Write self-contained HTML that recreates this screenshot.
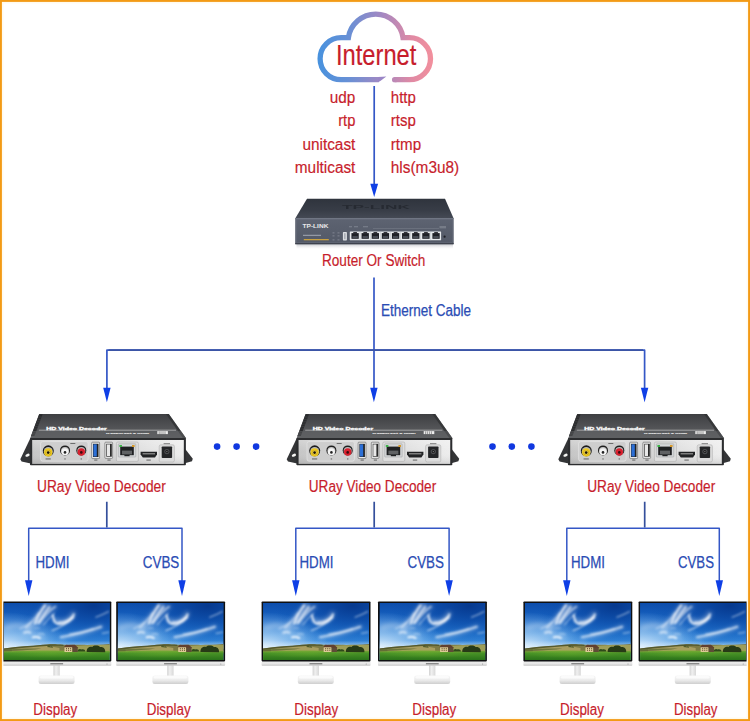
<!DOCTYPE html>
<html>
<head>
<meta charset="utf-8">
<title>URay Video Decoder Network Diagram</title>
<style>
html,body{margin:0;padding:0;background:#fff;}
body{width:750px;height:721px;overflow:hidden;font-family:"Liberation Sans",sans-serif;}
#wrap{position:relative;width:750px;height:721px;background:#fff;overflow:hidden;}
svg{position:absolute;left:0;top:0;display:block;}
text{font-family:"Liberation Sans",sans-serif;}
.red{fill:#c71d2c;}
.blue{fill:#2a4cb4;}
</style>
</head>
<body>
<div id="wrap">
<svg width="750" height="721" viewBox="0 0 750 721">
<defs>
<linearGradient id="cloudg" gradientUnits="userSpaceOnUse" x1="318" y1="50" x2="435" y2="50">
<stop offset="0" stop-color="#4892de"/>
<stop offset="0.25" stop-color="#6690d6"/>
<stop offset="0.55" stop-color="#a488c2"/>
<stop offset="0.8" stop-color="#e08aa4"/>
<stop offset="1" stop-color="#f4909c"/>
</linearGradient>
<linearGradient id="rtop" x1="0" y1="0" x2="0" y2="1">
<stop offset="0" stop-color="#2f343d"/><stop offset="0.6" stop-color="#383d47"/><stop offset="1" stop-color="#454a55"/>
</linearGradient>
<linearGradient id="rfront" x1="0" y1="0" x2="0" y2="1">
<stop offset="0" stop-color="#5d6371"/><stop offset="1" stop-color="#535967"/>
</linearGradient>
<linearGradient id="rshadow" x1="0" y1="0" x2="0" y2="1">
<stop offset="0" stop-color="#b8bac0" stop-opacity="0.8"/><stop offset="1" stop-color="#e8e8ea" stop-opacity="0"/>
</linearGradient>
<linearGradient id="dtop" x1="0" y1="0" x2="0" y2="1">
<stop offset="0" stop-color="#3e3f42"/><stop offset="0.35" stop-color="#4b4c4f"/><stop offset="0.7" stop-color="#57585b"/><stop offset="1" stop-color="#5d5e61"/>
</linearGradient>
<linearGradient id="dpanel" x1="0" y1="0" x2="1" y2="0">
<stop offset="0" stop-color="#c6c6c6"/><stop offset="0.25" stop-color="#d3d3d3"/><stop offset="0.55" stop-color="#d6d6d6"/><stop offset="0.8" stop-color="#e4e4e4"/><stop offset="1" stop-color="#ededed"/>
</linearGradient>
<linearGradient id="dpanelv" x1="0" y1="0" x2="0" y2="1">
<stop offset="0" stop-color="#fff" stop-opacity="0.25"/><stop offset="0.5" stop-color="#fff" stop-opacity="0"/><stop offset="1" stop-color="#000" stop-opacity="0.1"/>
</linearGradient>
<linearGradient id="msky" x1="0" y1="0" x2="0" y2="1">
<stop offset="0" stop-color="#0d4dab"/><stop offset="0.3" stop-color="#1865c4"/><stop offset="0.55" stop-color="#2a80d8"/><stop offset="0.78" stop-color="#4698e4"/><stop offset="1" stop-color="#6cb0ec"/>
</linearGradient>
<radialGradient id="msky2" cx="0.85" cy="0.05" r="0.75">
<stop offset="0" stop-color="#05368a" stop-opacity="0.9"/><stop offset="0.6" stop-color="#0a49a6" stop-opacity="0.4"/><stop offset="1" stop-color="#0a49a6" stop-opacity="0"/>
</radialGradient>
<radialGradient id="msky3" cx="0.0" cy="0.78" r="0.62">
<stop offset="0" stop-color="#e8f5ff" stop-opacity="0.9"/><stop offset="0.5" stop-color="#cfe8fb" stop-opacity="0.45"/><stop offset="1" stop-color="#cfe8fb" stop-opacity="0"/>
</radialGradient>
<linearGradient id="mhaze" x1="0" y1="0" x2="0" y2="1">
<stop offset="0" stop-color="#dff0fc" stop-opacity="0"/><stop offset="1" stop-color="#e8f4fc" stop-opacity="0.75"/>
</linearGradient>
<linearGradient id="mfield" x1="0" y1="0" x2="0" y2="1">
<stop offset="0" stop-color="#7eaa38"/><stop offset="0.3" stop-color="#479226"/><stop offset="1" stop-color="#2a721a"/>
</linearGradient>
<radialGradient id="mfield2" cx="0.45" cy="0.35" r="0.45">
<stop offset="0" stop-color="#86c434" stop-opacity="0.3"/><stop offset="1" stop-color="#86c434" stop-opacity="0"/>
</radialGradient>
<linearGradient id="mchin" x1="0" y1="0" x2="0" y2="1">
<stop offset="0" stop-color="#f2f2f2"/><stop offset="0.7" stop-color="#e6e6e6"/><stop offset="1" stop-color="#c6c6c6"/>
</linearGradient>
<linearGradient id="mneck" x1="0" y1="0" x2="1" y2="0">
<stop offset="0" stop-color="#d2d2d2"/><stop offset="0.4" stop-color="#f0f0f0"/><stop offset="1" stop-color="#d8d8d8"/>
</linearGradient>
<linearGradient id="mbase" x1="0" y1="0" x2="0" y2="1">
<stop offset="0" stop-color="#f6f6f6"/><stop offset="0.55" stop-color="#ececec"/><stop offset="1" stop-color="#cfcfcf"/>
</linearGradient>
<filter id="cblur" x="-10%" y="-10%" width="120%" height="120%"><feGaussianBlur stdDeviation="0.9"/></filter>
<filter id="cblur2" x="-20%" y="-20%" width="140%" height="140%"><feGaussianBlur stdDeviation="2"/></filter>

</defs>
<rect x="0" y="0" width="750" height="721" fill="#ffffff"/>
<g fill="none" stroke="url(#cloudg)" stroke-width="5.3" stroke-linejoin="miter">
<path d="M378.6,79.7 L341.1,79.7 A21,21 0 0 1 341.1,37.7 L348.4,37.7 A27.6,27.6 0 0 1 403,37.7 L409.5,37.7 A21,21 0 0 1 409.5,79.7 L394.6,79.7" stroke-linecap="butt"/>
<path d="M395.2,79.7 L394.6,79.7" stroke-linecap="round"/>
</g>
<path d="M378,77.05 L386.4,76.6 C383.4,78.2 381.4,81 378,82.35 Z" fill="#9a86c6"/>

<g stroke="#3457c6" stroke-width="1.7" fill="none" stroke-linejoin="round">
<path d="M374.2,86 V185"/>
<path d="M374,277.5 V389"/>
<path d="M106.9,389 V350.2 H644.6 V389"/>
<path d="M28.7,581 V528.3 H182 V581" stroke-width="1.5"/>
<path d="M295.8,581 V528.3 H449.1 V581" stroke-width="1.5"/>
<path d="M566.8,581 V528.3 H719.3 V581" stroke-width="1.5"/>
</g>
<g stroke="#3b55a6" stroke-width="1.7" fill="none">
<path d="M108.5,350.2 H643"/>
<path d="M106.8,501.7 V527.4 M374.2,501.7 V527.4 M644.7,501.7 V527.4" stroke="#35509c"/>
</g>
<g fill="#0f3fe6">
<path d="M370.3,183.8 H378.1 L374.2,197 Z"/>
<path d="M103.2,387.8 H110.6 L106.9,402.2 Z"/>
<path d="M370.2,387.8 H377.6 L373.9,402.2 Z"/>
<path d="M640.9,387.8 H648.3 L644.6,402.2 Z"/>
<path d="M25,580.3 H32.4 L28.7,596 Z"/>
<path d="M178.3,580.3 H185.7 L182,596 Z"/>
<path d="M292.1,580.3 H299.5 L295.8,596 Z"/>
<path d="M445.4,580.3 H452.8 L449.1,596 Z"/>
<path d="M563.1,580.3 H570.5 L566.8,596 Z"/>
<path d="M715.6,580.3 H723 L719.3,596 Z"/>
</g>
<g fill="#1038e0">
<circle cx="217.1" cy="446.6" r="3.3"/><circle cx="236.6" cy="446.6" r="3.3"/><circle cx="256.1" cy="446.6" r="3.3"/>
<circle cx="492.5" cy="446.6" r="3.3"/><circle cx="511.8" cy="446.6" r="3.3"/><circle cx="531.4" cy="446.6" r="3.3"/>
</g>

<g>
<!-- shadow -->
<rect x="296.5" y="244" width="156.5" height="5" fill="url(#rshadow)"/>
<!-- top face -->
<polygon points="307,198.7 445,198.7 453.7,218.4 295.2,218.4" fill="url(#rtop)"/>
<!-- embossed logo on top -->
<text x="342" y="209" font-size="5.5" font-weight="bold" fill="#23272e" textLength="68" lengthAdjust="spacingAndGlyphs" opacity="0.8">TP-LINK</text>
<!-- front face -->
<rect x="295.2" y="218.2" width="158.5" height="26" fill="url(#rfront)"/>
<rect x="295.2" y="218.2" width="158.5" height="0.8" fill="#727886"/>
<rect x="295.2" y="243.2" width="158.5" height="1" fill="#3a3e48"/>
<rect x="296.6" y="219.6" width="155.8" height="23" fill="none" stroke="#6c7280" stroke-width="0.5" opacity="0.8"/>
<!-- logo -->
<text x="302.6" y="227.8" font-size="5" font-weight="bold" fill="#e8e8ea" textLength="25.8" lengthAdjust="spacingAndGlyphs">TP-LINK</text>
<rect x="303" y="234.8" width="18" height="1" fill="#b8bcc6" opacity="0.8"/>
<rect x="303.8" y="239" width="25" height="1.3" fill="#c8a040"/>
<g fill="#a0a4ae" opacity="0.7">
<rect x="332.5" y="232.5" width="2" height="0.8"/><rect x="337.5" y="232.5" width="2" height="0.8"/>
<rect x="332.5" y="235.5" width="2" height="0.8"/><rect x="337.5" y="235.5" width="2" height="0.8"/>
<rect x="332.5" y="239.5" width="2" height="0.8"/><rect x="337.5" y="239.5" width="2" height="0.8"/>
</g>
<!-- line above ports -->
<rect x="373" y="228" width="66" height="0.6" fill="#7e838f" opacity="0.8"/>
<g fill="#9a9fab" opacity="0.7"><rect x="349" y="226.4" width="3" height="0.8"/><rect x="354" y="226.4" width="4" height="0.8"/><rect x="363" y="226.4" width="5" height="0.8"/></g>
<!-- usb -->
<rect x="342.9" y="232" width="4" height="8.4" rx="0.7" fill="#dcdfe3"/>
<rect x="344.4" y="233.2" width="1" height="6" fill="#8a8f99"/>
<!-- ports -->
<rect x="349.8" y="231.6" width="91.3" height="8.7" rx="0.5" fill="#e6e9ec"/>
<rect x="351.45" y="233.1" width="7.3" height="5.7" fill="#1e2026"/><rect x="353.25" y="232.1" width="3.7" height="1.3" fill="#1e2026"/><rect x="352.45" y="236.2" width="5.3" height="1.7" fill="#4e535d"/>
<rect x="361.57" y="233.1" width="7.3" height="5.7" fill="#1e2026"/><rect x="363.37" y="232.1" width="3.7" height="1.3" fill="#1e2026"/><rect x="362.57" y="236.2" width="5.3" height="1.7" fill="#4e535d"/>
<rect x="359.82" y="231.6" width="0.4" height="8.7" fill="#aeb2b8"/>
<rect x="371.69" y="233.1" width="7.3" height="5.7" fill="#1e2026"/><rect x="373.49" y="232.1" width="3.7" height="1.3" fill="#1e2026"/><rect x="372.69" y="236.2" width="5.3" height="1.7" fill="#4e535d"/>
<rect x="369.94" y="231.6" width="0.4" height="8.7" fill="#aeb2b8"/>
<rect x="381.81" y="233.1" width="7.3" height="5.7" fill="#1e2026"/><rect x="383.61" y="232.1" width="3.7" height="1.3" fill="#1e2026"/><rect x="382.81" y="236.2" width="5.3" height="1.7" fill="#4e535d"/>
<rect x="380.06" y="231.6" width="0.4" height="8.7" fill="#aeb2b8"/>
<rect x="391.93" y="233.1" width="7.3" height="5.7" fill="#1e2026"/><rect x="393.73" y="232.1" width="3.7" height="1.3" fill="#1e2026"/><rect x="392.93" y="236.2" width="5.3" height="1.7" fill="#4e535d"/>
<rect x="390.18" y="231.6" width="0.4" height="8.7" fill="#aeb2b8"/>
<rect x="402.05" y="233.1" width="7.3" height="5.7" fill="#1e2026"/><rect x="403.85" y="232.1" width="3.7" height="1.3" fill="#1e2026"/><rect x="403.05" y="236.2" width="5.3" height="1.7" fill="#4e535d"/>
<rect x="400.30" y="231.6" width="0.4" height="8.7" fill="#aeb2b8"/>
<rect x="412.17" y="233.1" width="7.3" height="5.7" fill="#1e2026"/><rect x="413.97" y="232.1" width="3.7" height="1.3" fill="#1e2026"/><rect x="413.17" y="236.2" width="5.3" height="1.7" fill="#4e535d"/>
<rect x="410.42" y="231.6" width="0.4" height="8.7" fill="#aeb2b8"/>
<rect x="422.29" y="233.1" width="7.3" height="5.7" fill="#1e2026"/><rect x="424.09" y="232.1" width="3.7" height="1.3" fill="#1e2026"/><rect x="423.29" y="236.2" width="5.3" height="1.7" fill="#4e535d"/>
<rect x="420.54" y="231.6" width="0.4" height="8.7" fill="#aeb2b8"/>
<rect x="432.41" y="233.1" width="7.3" height="5.7" fill="#1e2026"/><rect x="434.21" y="232.1" width="3.7" height="1.3" fill="#1e2026"/><rect x="433.41" y="236.2" width="5.3" height="1.7" fill="#4e535d"/>
<rect x="430.66" y="231.6" width="0.4" height="8.7" fill="#aeb2b8"/>
<circle cx="444.6" cy="236.7" r="1.1" fill="#1e2026"/>
<rect x="439.5" y="226" width="6.5" height="2.4" fill="#8a8f9a" opacity="0.6"/>
</g>

<g id="decoder">
<!-- ears -->
<polygon points="30.2,438.6 20.3,459.2 21.6,461.4 33,464 33,438.6" fill="#343537"/>
<ellipse cx="27.5" cy="455.2" rx="2.2" ry="1.4" fill="#f4f4f2" transform="rotate(-20 27.5 455.2)"/>
<polygon points="185.6,449.6 192.8,458.8 192,461.2 184,463.6 184,449.6" fill="#343537"/>
<!-- top face -->
<polygon points="39.3,414.1 168.8,414.1 186.2,438.6 30.2,438.6" fill="url(#dtop)"/>
<polygon points="166,414.1 168.8,414.1 186.2,438.6 183.2,438.6" fill="#2f3032" opacity="0.75"/>
<!-- ribbed left side -->
<polygon points="39.1,414.2 42.6,414.2 34.4,436 31,436" fill="#2a2b2d"/>
<g stroke="#4a4b4e" stroke-width="0.5">
<path d="M38.2,417 h3.4 M37.3,419.4 h3.4 M36.4,421.8 h3.4 M35.5,424.2 h3.4 M34.6,426.6 h3.4 M33.7,429 h3.4 M32.8,431.4 h3.4 M31.9,433.8 h3.4"/>
</g>
<!-- lighter front strip of top -->
<polygon points="33,431 181,431 186.2,438.6 30.2,438.6" fill="#626366" opacity="0.45"/>
<!-- swoosh + text -->
<path d="M38.8,430.2 H176" stroke="#ececec" stroke-width="0.6" opacity="0.85"/>
<text x="46.3" y="429.9" font-size="3.7" font-weight="bold" fill="#f6f6f6" stroke="#f6f6f6" stroke-width="0.3" textLength="60.5" lengthAdjust="spacingAndGlyphs">HD Video Decoder</text>
<text x="106" y="434.2" font-size="2.3" font-weight="bold" fill="#e0e0e0" stroke="#e0e0e0" stroke-width="0.15" textLength="43" lengthAdjust="spacingAndGlyphs">H.265/H.264 &amp; HDMI</text>
<rect x="157.3" y="431.1" width="10.6" height="3" fill="#ececec"/>
<path d="M159.2,431.4 v2.9 M161,431.4 v2.9 M163,431.4 v2.9 M165,431.4 v2.9" stroke="#444" stroke-width="0.5"/>
<!-- front frame -->
<rect x="30" y="437.9" width="155.9" height="27.4" rx="0.8" fill="#2c2d2f"/>
<!-- silver panel -->
<rect x="32.2" y="440" width="151.6" height="23.9" fill="url(#dpanel)"/>
<rect x="32.2" y="440" width="151.6" height="23.9" fill="url(#dpanelv)"/>
<!-- RCA group box -->
<rect x="40.6" y="441.6" width="47.4" height="19.6" rx="2" fill="#cecece" stroke="#e9e9e9" stroke-width="0.6"/>
<!-- RCA yellow -->
<circle cx="48.3" cy="450.8" r="5.5" fill="#1c1c1c"/>
<circle cx="48.3" cy="451.4" r="4.5" fill="#b9b9b9"/>
<circle cx="48.2" cy="452.4" r="4.1" fill="#ecc81e"/>
<circle cx="48.2" cy="452.6" r="2.7" fill="#c9a51a"/>
<circle cx="48.2" cy="452.6" r="2.1" fill="#f1d94e"/>
<circle cx="48.2" cy="452.6" r="1.35" fill="#1a1208"/>
<!-- RCA white -->
<circle cx="65" cy="450.4" r="5" fill="#1f1f1f"/>
<circle cx="65" cy="451.1" r="4" fill="#c4c4c4"/>
<circle cx="65" cy="451.8" r="3.5" fill="#f4f4f4"/>
<circle cx="65" cy="452.4" r="1.3" fill="#222"/>
<!-- RCA red -->
<circle cx="81.3" cy="450.4" r="5" fill="#1f1f1f"/>
<circle cx="81.3" cy="451.1" r="4" fill="#bdbdbd"/>
<circle cx="81.3" cy="452" r="3.7" fill="#d8202e"/>
<circle cx="81.3" cy="452.4" r="1.3" fill="#3a0a0e"/>
<!-- tiny labels -->
<g fill="#555">
<rect x="45.6" y="458.5" width="5.2" height="0.9"/><rect x="64.3" y="458.5" width="1.4" height="0.9"/><rect x="80.6" y="458.5" width="1.4" height="0.9"/>
<rect x="70.3" y="443.2" width="5" height="0.8"/>
<rect x="94.2" y="459.6" width="3.2" height="0.9"/><rect x="107.4" y="459.6" width="3.2" height="0.9"/>
<rect x="122" y="459.4" width="10" height="0.9" opacity="0.6"/><rect x="146.4" y="459.6" width="4.4" height="0.9"/>
<rect x="163.6" y="443.4" width="6.4" height="0.8"/><rect x="162.6" y="460" width="8.6" height="1"/>
</g>
<!-- USB3 blue -->
<rect x="91.7" y="442.2" width="7.9" height="16.4" rx="0.8" fill="#e9e9e9" stroke="#5a5a5a" stroke-width="0.6"/>
<rect x="93" y="443.8" width="5.5" height="13.2" fill="#222"/>
<rect x="93.4" y="444.3" width="3.4" height="12.2" fill="#2c6fd6"/>
<!-- USB2 -->
<rect x="104.9" y="442.2" width="7.7" height="16.2" rx="0.8" fill="#ebebeb" stroke="#5a5a5a" stroke-width="0.6"/>
<rect x="106.3" y="443.8" width="5.5" height="12.9" fill="#2a2a2a"/>
<rect x="106.9" y="444.4" width="3.1" height="11.7" fill="#e8e8e8"/>
<!-- RJ45 -->
<rect x="116.4" y="442" width="22" height="19.4" rx="1.4" fill="#dedede" stroke="#a6a6a6" stroke-width="0.5"/>
<rect x="118.3" y="443.8" width="17.5" height="13.2" rx="0.6" fill="#d4d6d8" stroke="#8e9092" stroke-width="0.4"/>
<rect x="120.2" y="446.6" width="13.6" height="8.6" fill="#1f2022"/>
<rect x="124.4" y="455" width="5.2" height="1.2" fill="#1f2022"/>
<rect x="122" y="450.6" width="10" height="3.8" fill="#606264"/>
<rect x="119.4" y="445" width="2.6" height="2" fill="#3fb44a"/>
<rect x="132" y="445" width="2.6" height="2" fill="#d89a2a"/>
<!-- HDMI -->
<polygon points="140.6,451.8 157,451.8 157,454.6 155,457.4 142.8,457.4 140.6,454.6" fill="#222325"/>
<rect x="142.6" y="453.1" width="12.4" height="1.3" fill="#8a8a8a"/>
<!-- DC -->
<rect x="159.2" y="444.8" width="15.2" height="17.2" rx="1.6" fill="#dcdcdc" stroke="#a8a8a8" stroke-width="0.5"/>
<rect x="161.7" y="446.4" width="10.4" height="11.6" rx="0.8" fill="#242527"/>
<circle cx="166.9" cy="451.6" r="2.6" fill="#4c4d50"/>
<circle cx="166.9" cy="451.6" r="1.5" fill="#19191a"/>
<circle cx="166.9" cy="451.6" r="0.6" fill="#8d8d8d"/>
</g>
<use href="#decoder" x="266.4"/>
<use href="#decoder" x="538"/>

<g id="monitor" transform="translate(2.4 601.5)">
<!-- stand -->
<rect x="51" y="63" width="6.4" height="14" fill="url(#mneck)"/>
<rect x="36.2" y="74" width="36" height="8.4" rx="2.2" fill="url(#mbase)"/>
<rect x="37.5" y="74.4" width="33.4" height="2.6" rx="1.3" fill="#fbfbfb"/>
<!-- chin -->
<rect x="0" y="58" width="108.9" height="6.2" rx="0.8" fill="url(#mchin)"/>
<rect x="47.9" y="61.7" width="12.8" height="1.1" fill="#565656" opacity="0.8"/>
<circle cx="104.6" cy="62.6" r="0.5" fill="#888"/>
<!-- bezel -->
<rect x="0" y="0" width="108.9" height="59.9" rx="0.8" fill="#0f1012"/>
<!-- screen -->
<svg x="1.45" y="1.45" width="106" height="57.1" viewBox="0 0 106.7 57.5" preserveAspectRatio="none">
<rect x="0" y="0" width="106.7" height="57.5" fill="url(#msky)"/>
<rect x="0" y="0" width="106.7" height="57.5" fill="url(#msky2)"/>
<rect x="0" y="0" width="106.7" height="57.5" fill="url(#msky3)"/>
<!-- clouds -->
<g fill="none" stroke="#fff" stroke-linecap="round" filter="url(#cblur2)">
<path d="M26,24 C32,17 38,10 44,3" stroke-width="7" opacity="0.3"/>
<path d="M36,20 C42,13 46,8 52,4" stroke-width="4" opacity="0.25"/>
<path d="M51,17 C58,21 66,18 70,11" stroke-width="5" opacity="0.3"/>
<path d="M58,35 C72,33 86,29 98,24" stroke-width="4" opacity="0.3"/>
<path d="M3,25 C10,22 18,22 24,25" stroke-width="5" opacity="0.25"/>
<path d="M20,30 C26,29 34,33 40,35" stroke-width="4" opacity="0.2"/>
</g>
<g fill="none" stroke="#fff" stroke-linecap="round" filter="url(#cblur)">
<path d="M31.5,20.5 C34,14 37,8 41.4,2.4" stroke-width="2.4" opacity="0.75"/>
<path d="M34.6,20.5 C38,14.4 42,9 46,4" stroke-width="2" opacity="0.69"/>
<path d="M36,20 C41,13 46,7.4 52,3.6" stroke-width="1.6" opacity="0.56"/>
<path d="M22,25 C27,21 31,16 35,10" stroke-width="1.6" opacity="0.50"/>
<path d="M16,26 C20,24 24,22 27,19.4" stroke-width="1.4" opacity="0.38"/>
<path d="M40,22 C44,17.4 47,13.6 51,10.4" stroke-width="1.3" opacity="0.44"/>
<path d="M49.4,12.6 C49.8,17 51,20 54,20.8 C60,22 67.6,18.6 70.4,11.6" stroke-width="2.2" opacity="0.78"/>
<path d="M55,19.4 C60,19.6 65,17.4 68.4,14" stroke-width="1.8" opacity="0.62"/>
<path d="M48.6,27.8 C56,25 64,20.6 70.6,14.6" stroke-width="1.3" opacity="0.62"/>
<path d="M57.4,34.4 C70,32.6 84,29 98,24" stroke-width="2" opacity="0.62"/>
<path d="M66,31.4 C74,30.6 82,28.6 90,26" stroke-width="1.4" opacity="0.50"/>
<path d="M92.6,14.4 C96.6,13 101,11 105.4,8.6" stroke-width="1.1" opacity="0.56"/>
<path d="M99,30.6 C101.6,30.2 103.6,29.8 105.6,29.4" stroke-width="1.1" opacity="0.50"/>
<path d="M20.4,30 C22.4,29 24.8,29 26.6,30" stroke-width="2" opacity="0.62"/>
<path d="M29,34.6 C31.4,33.8 34,34.2 36.4,35.4" stroke-width="1.8" opacity="0.95"/>
<path d="M35,31.4 C37,30.6 39,30.8 40.6,31.6" stroke-width="1.3" opacity="0.44"/>
<path d="M31,25.6 C32.6,25 34.4,25 35.6,25.6" stroke-width="1.2" opacity="0.38"/>
</g>
<!-- horizon haze -->
<rect x="0" y="38" width="106.7" height="8" fill="url(#mhaze)"/>
<!-- hills -->
<path d="M0,45.8 C8,44.8 16,44 24,43.4 C32,42.8 38,42.2 44,41.8 C50,41.4 54,41.8 60,42.2 C66,42.6 72,42 78,42.2 C86,42.4 94,42.2 106.7,41.4 V51 H0 Z" fill="#7d7a44"/>
<path d="M8,46.4 C18,44.4 30,43.4 40,43 C46,43 50,44 56,45.4 L56,49.5 L8,49.5 Z" fill="#b0a566" opacity="0.85"/>
<path d="M72,43.4 C80,42.4 92,42.6 106.7,42.4 V49.5 H72 Z" fill="#a3a45c" opacity="0.85"/>
<path d="M0,45.8 C8,44.8 16,44 24,43.4 C32,42.8 38,42.2 44,41.8 C50,41.4 54,41.8 60,42.2 L60,43.4 C52,42.8 44,43 36,43.8 C24,44.8 12,46 0,47.2 Z" fill="#4c5228" opacity="0.85"/>
<path d="M0,47.4 C10,46.2 24,45.8 38,46 C30,47 20,47.6 0,48.8 Z" fill="#5d6a32" opacity="0.8"/>
<!-- field -->
<path d="M0,49 C20,47.8 40,47.6 60,48.2 C80,48.8 95,48.6 106.7,48.2 V57.5 H0 Z" fill="url(#mfield)"/>
<rect x="0" y="47.6" width="106.7" height="9.9" fill="url(#mfield2)"/>
<!-- trees -->
<path d="M83.4,49.4 C83,45.6 86.4,43.6 89,44.4 C90.6,42.4 95,42.4 96.8,44.4 C100,43.8 102.4,46 102,49.6 Z" fill="#273a16"/>
<path d="M74,48.8 C74.4,46.4 77,46 78,47 C79.4,46 82,46.6 82,49 Z" fill="#2f4a1a"/>
<path d="M43.5,44.4 c0.6,-1.6 2.6,-1.8 3.4,-0.6 c1.2,-0.8 2.6,0 2.6,1.4 z" fill="#3c4c1e" opacity="0.8"/>
<!-- house -->
<rect x="61" y="44" width="8" height="5.4" fill="#dccb96"/>
<rect x="69" y="44.4" width="5.4" height="5" fill="#5e4c36"/>
<path d="M60.2,44.6 L62.6,42 H71.4 L75,45 H69.4 L68.8,44.6 Z" fill="#62402e"/>
<g fill="#6a5432" transform="translate(0.8 0.7)"><rect x="61.8" y="44.6" width="0.9" height="1.2"/><rect x="63.9" y="44.6" width="0.9" height="1.2"/><rect x="66" y="44.6" width="0.9" height="1.2"/><rect x="61.8" y="46.4" width="0.9" height="1.2"/><rect x="63.9" y="46.4" width="0.9" height="1.2"/><rect x="66" y="46.4" width="0.9" height="1.2"/></g>
</svg>
</g>
<use href="#monitor" x="113.8"/>
<use href="#monitor" x="259.2"/>
<use href="#monitor" x="375.6"/>
<use href="#monitor" x="521.0"/>
<use href="#monitor" x="636.2"/>

<g class="red" stroke="#c71d2c" stroke-width="0.18">
<text x="336" y="64.9" font-size="29.8" stroke="#c71d2c" stroke-width="0.2" textLength="80.3" lengthAdjust="spacingAndGlyphs">Internet</text>
<g font-size="17.3">
<text x="329.8" y="102.7" textLength="25.6" lengthAdjust="spacingAndGlyphs">udp</text>
<text x="338.2" y="126.2" textLength="17.2" lengthAdjust="spacingAndGlyphs">rtp</text>
<text x="302.4" y="149.6" textLength="53" lengthAdjust="spacingAndGlyphs">unitcast</text>
<text x="294.8" y="173" textLength="60.6" lengthAdjust="spacingAndGlyphs">multicast</text>
<text x="390.8" y="102.7" textLength="25" lengthAdjust="spacingAndGlyphs">http</text>
<text x="390.8" y="126.2" textLength="25" lengthAdjust="spacingAndGlyphs">rtsp</text>
<text x="390.8" y="149.6" textLength="30.3" lengthAdjust="spacingAndGlyphs">rtmp</text>
<text x="390.8" y="173" textLength="68.4" lengthAdjust="spacingAndGlyphs">hls(m3u8)</text>
</g>
<text x="322" y="265.6" font-size="16" textLength="103.4" lengthAdjust="spacingAndGlyphs">Router Or Switch</text>
<g font-size="16">
<text x="37" y="491.7" textLength="128.8" lengthAdjust="spacingAndGlyphs">URay Video Decoder</text>
<text x="308.8" y="491.7" textLength="127.4" lengthAdjust="spacingAndGlyphs">URay Video Decoder</text>
<text x="587.2" y="491.7" textLength="128" lengthAdjust="spacingAndGlyphs">URay Video Decoder</text>
<text x="33.3" y="715.2" textLength="44" lengthAdjust="spacingAndGlyphs">Display</text>
<text x="146.7" y="715.2" textLength="44" lengthAdjust="spacingAndGlyphs">Display</text>
<text x="294.3" y="715.2" textLength="44" lengthAdjust="spacingAndGlyphs">Display</text>
<text x="412.3" y="715.2" textLength="44" lengthAdjust="spacingAndGlyphs">Display</text>
<text x="560" y="715.2" textLength="44" lengthAdjust="spacingAndGlyphs">Display</text>
<text x="674" y="715.2" textLength="43.5" lengthAdjust="spacingAndGlyphs">Display</text>
</g>
</g>
<g class="blue" stroke="#2a4cb4" stroke-width="0.25">
<text x="381" y="315.6" font-size="15.6" textLength="90" lengthAdjust="spacingAndGlyphs">Ethernet Cable</text>
<g font-size="15.6">
<text x="35.5" y="567.5" textLength="34" lengthAdjust="spacingAndGlyphs">HDMI</text>
<text x="142.8" y="567.5" textLength="36.5" lengthAdjust="spacingAndGlyphs">CVBS</text>
<text x="299.5" y="567.5" textLength="34" lengthAdjust="spacingAndGlyphs">HDMI</text>
<text x="407.5" y="567.5" textLength="36.5" lengthAdjust="spacingAndGlyphs">CVBS</text>
<text x="571" y="567.5" textLength="34" lengthAdjust="spacingAndGlyphs">HDMI</text>
<text x="678" y="567.5" textLength="36" lengthAdjust="spacingAndGlyphs">CVBS</text>
</g>
</g>

<g>
<rect x="2.6" y="2.6" width="744.8" height="715.8" fill="none" stroke="#fffbee" stroke-width="1.6"/>
<rect x="0.95" y="0.95" width="748.1" height="719.1" fill="none" stroke="#f39a14" stroke-width="1.9"/>
</g>

</svg>
</div>
</body>
</html>
